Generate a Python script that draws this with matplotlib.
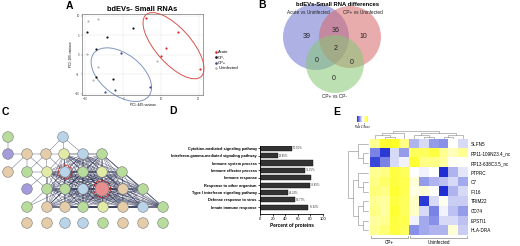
import numpy as np
import matplotlib
matplotlib.use('Agg')
import matplotlib.pyplot as plt
from matplotlib.patches import Circle, Ellipse
from matplotlib.colors import LinearSegmentedColormap

plt.rcParams['font.family'] = ['Liberation Sans', 'DejaVu Sans']

W, H = 520, 246

# ---- A: PCA of small RNAs
acute_pc1 = [6.1, 14.6, 11.4, 10.1, 20.2]
acute_pc2 = [9.5, 5.9, 1.8, -0.3, -3.6]
cpneg_pc1 = [-9.5, -4.4, 2.7, -7.1, -7.1, -2.6]
cpneg_pc2 = [5.9, 4.6, 6.7, 1.5, -5.6, -6.2]
cppos_pc1 = [-0.7, -2.3, -4.7, 7.2]
cppos_pc2 = [0.5, -9.0, -9.5, -8.2]
uninf_pc1 = [-9.2, -6.6, -9.5, -8.1, 9.0, -6.8]
uninf_pc2 = [8.7, 9.0, 0.3, -6.4, -1.5, -3.1]
group_names = ['Acute', 'CP-', 'CP+', 'Uninfected']

# ---- B: Venn counts
venn_names = ['Acute vs Uninfected', 'CP+ vs Uninfected', 'CP+ vs CP-']
n_a, n_b, n_c = 39, 10, 0
n_ab, n_ac, n_bc, n_abc = 36, 0, 0, 2

# ---- D: GO terms
go_terms = ['Cytokine-mediated signaling pathway',
            'Interferon-gamma-mediated signaling pathway',
            'Immune system process', 'Immune effector process',
            'Immune response', 'Response to other organism',
            'Type I interferon signaling pathway',
            'Defense response to virus', 'Innate immune response']
go_pct = [50.00, 28.85, 84.62, 71.15, 80.77, 78.85, 44.23, 55.77, 76.92]
go_lab = ['50.00%', '28.85%', '', '71.15%', '', '78.85%', '44.23%', '55.77%', '76.92%']

# ---- E: heatmap z-scores (rows = genes, cols = 4 CP+ then 6 Uninfected)
genes = ['SLFN5', 'RP11-109N23.4_nc', 'RP13-638C3.5_nc', 'PTPRC', 'C7',
         'IFI16', 'TRIM22', 'CD74', 'EPSTI1', 'HLA-DRA']
z_slfn5 = [0.6, 1.3, 1.4, 0.7, -0.8, -0.5, -1.0, -1.1, -0.2, -0.5]
z_rp11 = [-1.2, -1.8, -0.5, -1.0, 1.0, 1.0, 1.2, 0.6, 0.3, 0.6]
z_rp13 = [-1.7, -1.2, -0.5, -0.3, 1.3, 0.7, 0.7, 0.5, -0.1, -0.2]
z_ptprc = [0.6, 0.7, 1.2, 1.0, -0.2, -0.3, -0.2, -2.0, -0.8, -0.4]
z_c7 = [0.7, 0.9, 1.2, 1.1, 0.1, -1.0, -0.8, -0.7, -0.5, -0.9]
z_ifi16 = [0.8, 0.7, 1.3, 1.1, 0.0, 0.1, -0.2, -1.9, -0.8, -0.5]
z_trim22 = [0.6, 0.5, 1.2, 1.0, 0.2, -1.8, -0.5, -0.1, -0.6, -0.6]
z_cd74 = [0.7, 0.5, 1.3, 1.0, 0.2, -0.5, -1.2, -0.3, -0.7, -1.0]
z_epsti1 = [0.5, 0.6, 1.2, 1.1, -0.3, -0.9, -1.1, -0.5, -0.5, -0.7]
z_hladra = [0.6, 0.8, 1.2, 1.0, -1.1, -0.9, -0.8, -0.8, 0.1, -0.6]
col_groups = ['CP+', 'Uninfected']
col_group_n = [4, 6]
col_tree = (((0, (1, 2)), 3), ((4, (5, 6)), ((7, 8), 9)))
row_tree = ((0, (1, 2)), ((3, (4, 5)), ((6, 7), (8, 9))))


fig = plt.figure(figsize=(W / 100, H / 100), dpi=100)


def px_axes(x0, y0, x1, y1):
    return fig.add_axes([x0 / W, 1 - y1 / H, (x1 - x0) / W, (y1 - y0) / H])


ov = fig.add_axes([0, 0, 1, 1])
ov.set_xlim(0, W)
ov.set_ylim(H, 0)
ov.axis('off')

for lab, (x, y) in zip('ABCDE', [(69, 6), (262, 5), (5, 112), (173, 111), (337, 112)]):
    ov.text(x, y, lab, fontsize=7.5, fontweight='bold', ha='center', va='center')

# ---------------- A
pa = px_axes(82, 14, 203, 95)
pa.set_xlim(-10.9, 21.1)
pa.set_ylim(-10.3, 10.4)
for xs, ys, c, nm in [(acute_pc1, acute_pc2, '#d62728', 'Acute'),
                      (cpneg_pc1, cpneg_pc2, '#111111', 'CP-'),
                      (cppos_pc1, cppos_pc2, '#3b4a86', 'CP+'),
                      (uninf_pc1, uninf_pc2, '#b5b5b5', 'Uninfected')]:
    pa.scatter(xs, ys, s=2.5, color=c, label=nm, linewidths=0, zorder=3)
pa.add_patch(Ellipse((13.3, 2.3), 21.5, 9.2, angle=-47, fill=False,
                     edgecolor='#d9534f', lw=0.7, clip_on=False))
pa.add_patch(Ellipse((-0.5, -5.1), 18.2, 10.6, angle=-36, fill=False,
                     edgecolor='#7f95c0', lw=0.7, clip_on=False))
pa.set_xticks([-10, 0, 10, 20])
pa.set_yticks([-10, -5, 0, 5, 10])
pa.tick_params(labelsize=2, length=1, width=0.3, pad=0.8, colors='#444444')
pa.grid(True, color='#e3e3e3', lw=0.3)
pa.set_axisbelow(True)
for s in pa.spines.values():
    s.set_color('#777777')
    s.set_linewidth(0.5)
pa.set_xlabel('PC1: 44% variance', fontsize=2.2, labelpad=1)
pa.set_ylabel('PC2: 18% variance', fontsize=2.2, labelpad=1)
pa.set_title('bdEVs- Small RNAs', fontsize=5.4, fontweight='bold', pad=2.5)
pa.legend(loc='upper left', bbox_to_anchor=(212 / W, 1 - 48 / H),
          bbox_transform=fig.transFigure, fontsize=3, frameon=False,
          borderpad=0, handletextpad=0.2, labelspacing=0.35, markerscale=1.2,
          handlelength=0.8)

# ---------------- B: Venn
ov.text(337, 4, 'bdEVs-Small RNA differences', fontsize=4.2, fontweight='bold',
        ha='center', va='center')
for (cx, cy, r), col in zip([(316, 37, 33), (350, 37, 31), (335, 64, 29)],
                            ['#6a72cc', '#d8686a', '#86c874']):
    ov.add_patch(Circle((cx, cy), r, facecolor=col, alpha=0.55, edgecolor='none'))
ov.text(308, 13, venn_names[0], fontsize=3.4, ha='center', va='center', color='#222222')
ov.text(363, 13, venn_names[1], fontsize=3.4, ha='center', va='center', color='#222222')
ov.text(335, 96, venn_names[2], fontsize=3.4, ha='center', va='center', color='#222222')
for (x, y), n in zip([(307, 36), (336, 31), (363, 36), (336, 49), (317, 61), (352, 62), (334, 79)],
                     [n_a, n_ab, n_b, n_abc, n_ac, n_bc, n_c]):
    ov.text(x, y, str(n), fontsize=5, ha='center', va='center', color='#222222')

# ---------------- C: network
node_pos = [(8, 137), (63, 137),
            (8, 154), (27, 154), (46, 154), (64, 154), (83, 154), (102, 154),
            (8, 172), (27, 172), (47, 172), (65, 172), (83, 172), (102, 172), (122, 172),
            (27, 189), (47, 189), (65, 189), (83, 189), (102, 189), (123, 189), (143, 189),
            (27, 207), (47, 207), (65, 207), (83, 207), (103, 207), (123, 207), (143, 207), (163, 207),
            (27, 223), (47, 223), (65, 223), (83, 223), (103, 223), (123, 223), (143, 223), (163, 223)]
tan, grn, lbl, pur, ylg, pnk = '#e6cda9', '#b7dc9c', '#b9d3e8', '#a49bdc', '#e2eba6', '#e88d8d'
node_col = [grn, lbl,
            pur, tan, tan, ylg, lbl, grn,
            tan, grn, ylg, lbl, grn, ylg, grn,
            pur, grn, grn, lbl, pnk, tan, grn,
            grn, tan, tan, grn, ylg, tan, lbl, grn,
            tan, tan, lbl, lbl, grn, tan, tan, grn]
sparse_edges = [(0, 2), (2, 3), (3, 4), (3, 8), (3, 9), (3, 10), (1, 4), (1, 5), (1, 6),
                (4, 5), (4, 10), (4, 11), (9, 10), (10, 15), (4, 9), (10, 16), (9, 16),
                (22, 16), (22, 17), (23, 17), (23, 16)]
core = [5, 6, 7, 10, 11, 12, 13, 14, 16, 17, 18, 19, 20, 21, 23, 24, 25, 26, 27, 28, 29]
edges = list(sparse_edges)
for i in range(len(core)):
    for j in range(i + 1, len(core)):
        edges.append((core[i], core[j]))
for i, j in edges:
    ov.plot([node_pos[i][0], node_pos[j][0]], [node_pos[i][1], node_pos[j][1]],
            color='#2a3052', lw=0.35, alpha=0.7, zorder=1)
for k, ((x, y), c) in enumerate(zip(node_pos, node_col)):
    r = 7.0 if k == 19 else 5.3
    ov.add_patch(Circle((x, y), r, facecolor=c, edgecolor='#777777', lw=0.4, zorder=3))
    if k in (11, 19):
        ov.add_patch(Circle((x, y), r + 1.6, fill=False, edgecolor='#cc2222',
                            lw=0.8, ls=(0, (1.5, 1)), zorder=4))

# ---------------- D: GO bars
dax = px_axes(260, 146, 323, 214)
ypos = np.arange(len(go_terms))
dax.barh(ypos, go_pct, height=0.68, color='#333333', edgecolor='#111111', lw=0.3)
for y, v, t in zip(ypos, go_pct, go_lab):
    if t:
        dax.text(v + 1.5, y, t, fontsize=2, va='center', color='#333333')
dax.set_xlim(0, 100)
dax.set_ylim(8.9, -0.3)
dax.set_yticks(ypos)
dax.set_yticklabels(go_terms, fontsize=2.8, fontweight='bold')
dax.set_xticks([0, 20, 40, 60, 80, 100])
dax.tick_params(axis='x', labelsize=3, length=1.5, width=0.5, pad=1)
dax.tick_params(axis='y', length=1.5, width=0.5, pad=0.8)
for s in ['top', 'right']:
    dax.spines[s].set_visible(False)
for s in ['left', 'bottom']:
    dax.spines[s].set_linewidth(0.6)
dax.set_xlabel('Percent of proteins', fontsize=3.4, fontweight='bold', labelpad=1)

# ---------------- E: heatmap
z = np.array([z_slfn5, z_rp11, z_rp13, z_ptprc, z_c7, z_ifi16, z_trim22,
              z_cd74, z_epsti1, z_hladra])
cmap = LinearSegmentedColormap.from_list('by', ['#1f2fd4', '#ffffff', '#ffff1a'])
hm = px_axes(370, 139, 468, 235)
hm.imshow(z, cmap=cmap, vmin=-1.9, vmax=1.5, aspect='auto', interpolation='nearest')
hm.set_xticks([])
hm.set_yticks(range(len(genes)))
hm.set_yticklabels(genes, fontsize=3.3)
hm.yaxis.tick_right()
hm.tick_params(length=0, pad=2)
for s in hm.spines.values():
    s.set_visible(False)


def dendro(ax, tree, rows):
    def rec(node):
        if isinstance(node, int):
            return node, 0.0
        xa, ha = rec(node[0])
        xb, hb = rec(node[1])
        h = max(ha, hb) + 1
        if rows:
            ax.plot([ha, h, h, hb], [xa, xa, xb, xb], color='#888888', lw=0.4)
        else:
            ax.plot([xa, xa, xb, xb], [ha, h, h, hb], color='#888888', lw=0.4)
        return (xa + xb) / 2, h
    return rec(tree)[1]


cd = px_axes(370, 131, 468, 139)
top = dendro(cd, col_tree, False)
cd.set_xlim(-0.5, 9.5)
cd.set_ylim(-0.2, top + 0.1)
cd.axis('off')
rd = px_axes(347, 139, 369, 235)
top = dendro(rd, row_tree, True)
rd.set_ylim(9.5, -0.5)
rd.set_xlim(top + 0.1, -0.2)
rd.axis('off')

cb = px_axes(357, 116, 368, 122)
cb.imshow(np.linspace(-1.9, 1.5, 60)[None, :], cmap=cmap, aspect='auto')
cb.axis('off')
ov.text(359, 124.5, '-1', fontsize=1.8, ha='center', va='center')
ov.text(365, 124.5, '1', fontsize=1.8, ha='center', va='center')
ov.text(362, 127.5, 'Row Z-Score', fontsize=1.8, ha='center', va='center')

x0 = 370
cw = 98 / sum(col_group_n)
for g, n in zip(col_groups, col_group_n):
    xa, xb = x0 + 1, x0 + n * cw - 1
    ov.plot([xa, xa, xb, xb], [235.5, 237.5, 237.5, 235.5], color='#888888', lw=0.5)
    ov.text((xa + xb) / 2, 242, g, fontsize=3.3, ha='center', va='center')
    x0 += n * cw

fig.savefig('out.png', dpi=100)
